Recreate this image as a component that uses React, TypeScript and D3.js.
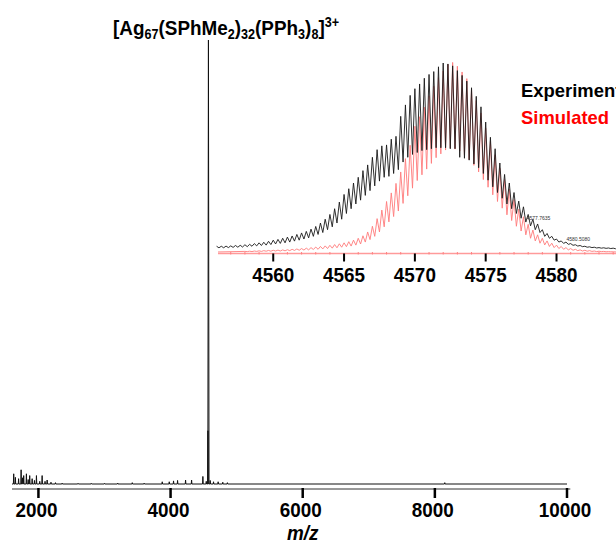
import React from "react";
import * as d3 from "d3";

// full spectrum: stick peaks (m/z, relative intensity %)
const mainMz = [1626, 1651, 1700, 1738, 1760, 1777, 1818, 1845, 1868, 1905, 1940, 1970, 2020, 2056, 2100, 2132, 2190, 2258, 2359,
  2600, 2800, 3000, 3200, 3420, 3600, 3874, 3980, 4045, 4106, 4227, 4318, 4489, 4540, 4566, 4573, 4600, 4650, 4720, 4790, 4860, 8150];
const mainInt = [2.3, 1.5, 1.2, 3.2, 1.4, 1.9, 2.3, 1.0, 1.9, 1.2, 0.8, 1.9, 0.6, 1.9, 0.6, 0.9, 0.4, 0.3, 0.2,
  0.15, 0.15, 0.15, 0.2, 0.3, 0.2, 0.5, 0.5, 0.7, 0.8, 0.9, 0.9, 1.7, 0.6, 12, 100, 0.8, 0.5, 0.5, 0.4, 0.3, 0.3];
const mainTicks = [2000, 4000, 6000, 8000, 10000];

// inset: isotope pattern of the 3+ ion, peaks every 1/3 m/z
const expStart = 4556;
const expTops = [
  3.8, 3.8, 3.9, 4.0, 4.2, 4.3, 4.6, 4.8, 5.2, 5.6, 5.9, 6.4, 7.0, 7.4, 8.0, 8.6, 9.2, 10.0,
  10.8, 11.6, 12.8, 14.2, 16.0, 18.0, 20.5, 23.5, 27.0, 31.0, 34.0, 37.0, 40.0, 43.5, 46.5,
  50.5, 54.5, 56.5, 57.0, 60.0, 61.5, 72.0, 78.0, 83.0, 86.5, 89.0, 92.0, 94.0, 95.5, 98.0,
  100, 99.5, 98.5, 96.0, 93.5, 90.5, 87.0, 82.5, 77.0, 69.0, 61.0, 55.0, 47.5, 41.5, 37.0,
  32.0, 27.5, 24.5, 20.5, 18.0, 15.5, 12.5, 10.5, 9.0, 7.6, 6.6, 6.0, 5.2, 4.6, 4.2,
  3.8, 3.5, 3.3, 3.1, 3.0, 2.9, 2.8, 2.7,
];
const expValleys = [
  3.0, 3.0, 3.1, 3.2, 3.3, 3.4, 3.6, 3.8, 4.0, 4.2, 4.4, 4.7, 5.0, 5.3, 5.6, 6.0, 6.5, 7.0,
  7.6, 8.2, 9.0, 10.0, 11.0, 12.5, 14.0, 16.0, 18.0, 21.0, 23.5, 26.0, 28.0, 30.5, 33.0,
  35.5, 38.0, 40.0, 40.5, 42.0, 44.0, 48.0, 50.5, 52.0, 53.0, 54.0, 54.5, 55.0, 55.5, 55.5,
  55.5, 55.0, 55.0, 50.5, 50.0, 49.0, 47.0, 45.0, 42.0, 38.5, 35.0, 32.0, 29.0, 26.0, 23.5,
  21.0, 18.5, 16.5, 14.5, 12.5, 11.0, 9.0, 8.0, 7.0, 6.0, 5.3, 4.8, 4.3, 3.9, 3.6,
  3.3, 3.1, 2.9, 2.8, 2.7, 2.6, 2.5,
];
const simStart = 4558;
const simTops = [
  0.3, 0.4, 0.5, 0.6, 0.7, 0.8, 0.9, 1.0, 1.1, 1.2, 1.4, 1.6, 1.8, 2.0, 2.3, 2.6, 2.9, 3.2,
  3.5, 3.9, 4.3, 4.8, 5.4, 6.2, 7.2, 8.5, 10.5, 13.5, 17.5, 22.0, 26.5, 31.0, 36.0,
  42.0, 49.0, 56.0, 66.0, 71.0, 76.0, 82.0, 87.0, 91.5, 95.0, 98.5, 99.5, 97.5, 94.5, 91.0,
  85.5, 79.5, 73.0, 65.0, 58.0, 51.0, 44.0, 38.0, 33.0, 27.5, 22.5, 18.5, 14.5, 11.5, 9.0,
  7.2, 5.8, 4.6, 3.6, 2.9, 2.3, 1.8, 1.4, 1.1, 0.9, 0.7, 0.5, 0.4, 0.3, 0.2, 0.1,
];
const simValleys = [
  0.2, 0.2, 0.3, 0.3, 0.4, 0.4, 0.5, 0.5, 0.6, 0.7, 0.8, 0.9, 1.0, 1.1, 1.3, 1.4, 1.6, 1.8,
  2.0, 2.2, 2.5, 2.8, 3.1, 3.6, 4.2, 5.2, 6.5, 8.2, 10.5, 13.2, 15.8, 18.6, 21.5,
  25.5, 29.5, 33.5, 37.5, 40.5, 43.5, 46.5, 49.5, 51.5, 53.5, 54.5, 54.0, 53.0, 51.0, 48.5,
  45.5, 42.0, 38.0, 34.0, 30.0, 26.5, 23.0, 19.5, 16.5, 13.5, 11.0, 9.0, 7.2, 5.8, 4.6,
  3.7, 2.9, 2.3, 1.8, 1.4, 1.1, 0.9, 0.7, 0.5, 0.4, 0.3, 0.2, 0.2, 0.1, 0.1,
];
const insetTicks = [4560, 4565, 4570, 4575, 4580];
const insetMinor = [4557, 4558, 4559, 4561, 4562, 4563, 4564, 4566, 4567, 4568, 4569, 4571, 4572, 4573, 4574, 4576, 4577, 4578, 4579, 4581, 4582, 4583, 4584];
const peakLabels = [
  { mz: 4577.7635, at: 4577.9, v: 17.5 },
  { mz: 4580.508, at: 4580.7, v: 6.5 },
];

const W = 616;
const H = 543;
const FONT = "'Liberation Sans', Arial, sans-serif";

const zigzag = (start: number, tops: number[], valleys: number[]) => {
  const pts: [number, number][] = [];
  tops.forEach((t, i) => {
    pts.push([start + i / 3, t]);
    if (i < tops.length - 1 && valleys[i] !== undefined) pts.push([start + i / 3 + 1 / 6, valleys[i]]);
  });
  return pts;
};

// bold labels in the original are a narrow face; squeeze Liberation Sans a bit
const Narrow = ({ x, y, anchor = "start", size = 21, sx = 0.9, italic = false, fill = "#000", children }: any) => (
  <text
    transform={`translate(${x},${y}) scale(${sx},1)`}
    textAnchor={anchor}
    fontSize={size}
    fontWeight="bold"
    fontStyle={italic ? "italic" : "normal"}
    fill={fill}
  >
    {children}
  </text>
);

export default function App() {
  // main axes
  const x = d3.scaleLinear().domain([1600, 10000]).range([12, 567]);
  const y = d3.scaleLinear().domain([0, 100]).range([484, 40]);
  const axisY = 489;

  const mainPts: [number, number][] = [[1600, 0]];
  mainMz.forEach((m, i) => {
    const hw = mainInt[i] > 50 ? 9 : 5;
    mainPts.push([m - hw, 0], [m, mainInt[i]], [m + hw, 0]);
  });
  mainPts.push([10000, 0]);
  const mainLine = d3.line<[number, number]>().x((d) => x(d[0])).y((d) => y(d[1]));

  // inset axes
  const xi = d3.scaleLinear().domain([4556.1, 4584.2]).range([218, 616]);
  const yi = d3.scaleLinear().domain([0, 100]).range([253.5, 63]);
  const insetLine = d3.line<[number, number]>().x((d) => xi(d[0])).y((d) => yi(d[1]));
  const expPts = zigzag(expStart, expTops, expValleys);
  const simPts = [[4556.1, 0.8] as [number, number], ...zigzag(simStart, simTops.map((v) => v + 0.8), simValleys.map((v) => v + 0.8)), [4584.2, 0.8] as [number, number]];

  return (
    <svg width={W} height={H} style={{ position: "absolute", left: 0, top: 0, background: "#fff" }} fontFamily={FONT}>
      {/* title */}
      <Narrow x={113} y={35}>
        [Ag<tspan fontSize={14} dy={4}>67</tspan>
        <tspan dy={-4}>(SPhMe</tspan><tspan fontSize={14} dy={4}>2</tspan>
        <tspan dy={-4}>)</tspan><tspan fontSize={14} dy={4}>32</tspan>
        <tspan dy={-4}>(PPh</tspan><tspan fontSize={14} dy={4}>3</tspan>
        <tspan dy={-4}>)</tspan><tspan fontSize={14} dy={4}>8</tspan>
        <tspan dy={-4}>]</tspan><tspan fontSize={14} dy={-8}>3+</tspan>
      </Narrow>

      {/* full spectrum */}
      <path d={mainLine(mainPts) || ""} fill="none" stroke="#111" strokeWidth={1} />
      <line x1={x(1600)} x2={x(10050)} y1={axisY} y2={axisY} stroke="#333" strokeWidth={1} />
      {mainTicks.map((t) => (
        <g key={t}>
          <line x1={x(t)} x2={x(t)} y1={axisY - 1} y2={axisY + 9} stroke="#000" strokeWidth={2.5} />
          <Narrow x={x(t) - 2} y={517} anchor="middle">{t}</Narrow>
        </g>
      ))}
      <Narrow x={x(6000)} y={540} anchor="middle" italic>m/z</Narrow>

      {/* inset */}
      <line x1={xi(4556.1)} x2={W} y1={yi(0)} y2={yi(0)} stroke="#ff9a9a" strokeWidth={1.5} />
      {insetMinor.map((t) => (
        <line key={t} x1={xi(t)} x2={xi(t)} y1={yi(0) - 1.5} y2={yi(0) + 1} stroke="#ff8080" strokeWidth={1} />
      ))}
      <path d={insetLine(simPts) || ""} fill="none" stroke="#ff7a7a" strokeWidth={0.9} />
      <path d={insetLine(expPts) || ""} fill="none" stroke="#1a1a1a" strokeWidth={0.9} />
      {insetTicks.map((t) => (
        <g key={t}>
          <line x1={xi(t)} x2={xi(t)} y1={yi(0)} y2={yi(0) + 8} stroke="#000" strokeWidth={2} />
          <Narrow x={xi(t)} y={282} anchor="middle">{t}</Narrow>
        </g>
      ))}
      {peakLabels.map((p) => (
        <text key={p.mz} x={xi(p.at)} y={yi(p.v)} fontSize={5} fill="#333">
          {p.mz.toFixed(4)}
        </text>
      ))}
      <Narrow x={521} y={97} size={19} sx={0.97}>Experimental</Narrow>
      <Narrow x={521} y={124} size={19} sx={0.97} fill="#ff0000">Simulated</Narrow>
    </svg>
  );
}
